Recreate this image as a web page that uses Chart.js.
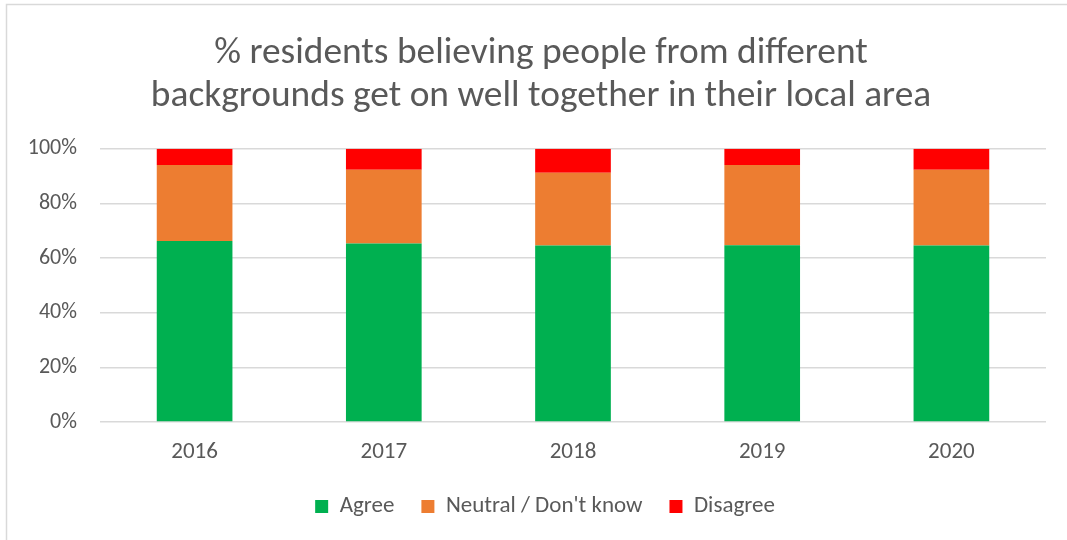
<!DOCTYPE html>
<html>
<head>
<meta charset="utf-8">
<script src="https://cdn.jsdelivr.net/npm/chart.js@4.4.1/dist/chart.umd.min.js"></script>
<style>
  html, body { margin: 0; padding: 0; background: #ffffff; }
  #wrap { width: 1067px; height: 540px; position: relative; }
</style>
</head>
<body>
<div id="wrap"><canvas id="c" width="1067" height="540"></canvas></div>
<script>
const categories = ["2016", "2017", "2018", "2019", "2020"];
const agree = [66.2, 65.3, 64.6, 64.7, 64.6];
const neutral = [27.9, 27.0, 26.6, 29.4, 27.7];
const disagree = [5.9, 7.7, 8.8, 5.9, 7.7];
const seriesNames = ["Agree", "Neutral / Don't know", "Disagree"];
const titleLines = ["% residents believing people from different", "backgrounds get on well together in their local area"];

const FONT = "Carlito, Calibri, 'Liberation Sans', Arial, sans-serif";
const TEXT = "#595959";
const GRID = "#d9d9d9";

const borderPlugin = {
  id: 'outerBorder',
  beforeDraw(chart) {
    const ctx = chart.ctx;
    ctx.save();
    ctx.fillStyle = '#ffffff';
    ctx.fillRect(0, 0, chart.width, chart.height);
    ctx.strokeStyle = '#d9d9d9';
    ctx.lineWidth = 1.5;
    ctx.beginPath();
    ctx.moveTo(6.5, chart.height + 2);
    ctx.lineTo(6.5, 4.5);
    ctx.lineTo(chart.width + 2, 4.5);
    ctx.stroke();
    ctx.restore();
  }
};

const chart = new Chart(document.getElementById('c'), {
  type: 'bar',
  data: {
    labels: categories,
    datasets: [
      { label: seriesNames[0], data: agree, backgroundColor: '#00b050' },
      { label: seriesNames[1], data: neutral, backgroundColor: '#ed7d31' },
      { label: seriesNames[2], data: disagree, backgroundColor: '#ff0000' }
    ]
  },
  options: {
    responsive: false,
    animation: false,
    devicePixelRatio: 1,
    layout: { padding: { left: 10, right: 21, top: 0, bottom: 10 } },
    datasets: { bar: { categoryPercentage: 1.0, barPercentage: 0.4, borderWidth: 0 } },
    plugins: {
      title: {
        display: true,
        text: titleLines,
        color: TEXT,
        font: { family: FONT, size: 37.4, weight: 'normal', lineHeight: 1.16 },
        padding: { top: 32, bottom: 30 }
      },
      legend: {
        position: 'bottom',
        labels: {
          color: TEXT,
          font: { family: FONT, size: 23 },
          boxWidth: 13,
          boxHeight: 13,
          padding: 27
        }
      },
      tooltip: { enabled: false }
    },
    scales: {
      x: {
        stacked: true,
        afterFit(s) { s.height = 46; },
        grid: { display: false, drawTicks: false },
        border: { display: false },
        ticks: { color: TEXT, font: { family: FONT, size: 23 }, padding: 16 }
      },
      y: {
        stacked: true,
        min: 0,
        max: 100,
        afterFit(s) { s.width = 90; },
        grid: { color: GRID, lineWidth: 1.5, drawTicks: false },
        border: { display: false },
        ticks: {
          stepSize: 20,
          color: TEXT,
          font: { family: FONT, size: 22 },
          padding: 23,
          callback: v => v + '%'
        }
      }
    }
  },
  plugins: [borderPlugin]
});

function shiftDraw(box, dx) {
  const baseDraw = box.draw;
  box.draw = function (area) {
    this.ctx.save();
    this.ctx.translate(dx, 0);
    baseDraw.call(this, area);
    this.ctx.restore();
  };
}

// fix the legend box height and shift legend and title to the reference's centre
const legendBox = chart.legend;
const baseFit = legendBox.fit;
legendBox.fit = function () { baseFit.call(this); this.height = 62; };
shiftDraw(legendBox, 17);
shiftDraw(chart.titleBlock, 13);
chart.update();
</script>
</body>
</html>
